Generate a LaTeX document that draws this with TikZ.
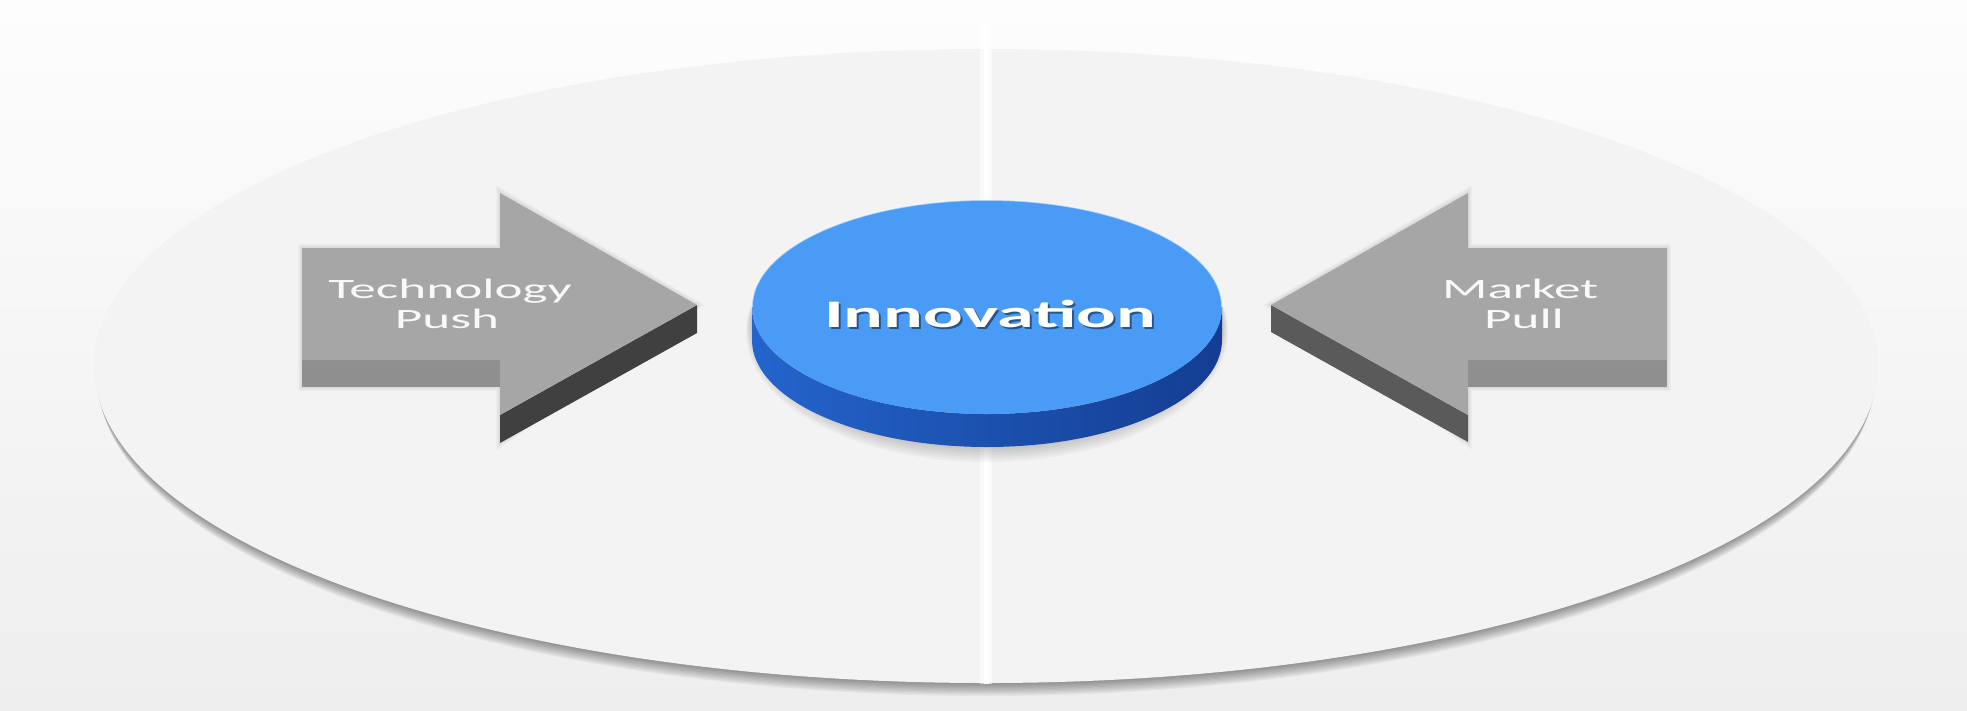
\documentclass[tikz,border=0pt]{standalone}
\usepackage{fontspec}
\setmainfont{Carlito}
\definecolor{bgtop}{HTML}{FDFDFD}
\definecolor{bgbot}{HTML}{EEEEEE}
\definecolor{plate}{HTML}{F3F3F3}
\definecolor{arrowtop}{HTML}{A6A6A6}
\definecolor{arrowshaft}{HTML}{8F8F8F}
\definecolor{headdarkL}{HTML}{404040}
\definecolor{headdarkR}{HTML}{5A5A5A}
\definecolor{disktop}{HTML}{4A9BF6}
\definecolor{sideL}{HTML}{2464CC}
\definecolor{sideM}{HTML}{3B82EE}
\definecolor{sideR}{HTML}{143D92}
\tikzset{
  lbl/.style={text=white!95!gray, anchor=base, inner sep=0pt, font=\fontsize{28}{30}\selectfont},
  bigl/.style={text=white, anchor=base, inner sep=0pt, font=\fontsize{39}{42}\selectfont\bfseries},
}
\begin{document}
\begin{tikzpicture}[x=1pt,y=-1pt]
% background
\shade[top color=bgtop, bottom color=bgbot] (0,0) rectangle (1967,710);
\useasboundingbox (0,0) rectangle (1967,710);
% plate shadow
\foreach \k in {1,...,10}
  \fill[black, opacity=0.045] (986,{366+\k*1.3}) ellipse [x radius={892-\k*0.4}, y radius=317];
% plate
\fill[plate] (986,366) ellipse [x radius=892, y radius=317];
% white divider
\draw[white, line width=12, opacity=0.5] (986,24) -- (986,684);
\draw[white, line width=5] (986,24) -- (986,684);
% arrow soft shadows
\foreach \k in {1,...,4}
  \fill[black, opacity=0.025] ({302-\k},{248-\k}) -- ({500-\k},{248-\k}) -- ({500-\k},{193-2*\k}) -- ({697+2*\k},305) -- ({500-\k},{443+2*\k}) -- ({500-\k},{387+\k}) -- ({302-\k},{387+\k}) -- cycle;
\foreach \k in {1,...,4}
  \fill[black, opacity=0.025] ({1667+\k},{248-\k}) -- ({1468+\k},{248-\k}) -- ({1468+\k},{193-2*\k}) -- ({1271-2*\k},305) -- ({1468+\k},{442+2*\k}) -- ({1468+\k},{387+\k}) -- ({1667+\k},{387+\k}) -- cycle;
% left arrow
\fill[arrowshaft] (302,360) -- (500,360) -- (500,387) -- (302,387) -- cycle;
\fill[headdarkL] (697,305) -- (697,333) -- (500,443) -- (500,415) -- cycle;
\fill[arrowtop] (302,248) -- (500,248) -- (500,193) -- (697,305) -- (500,415) -- (500,360) -- (302,360) -- cycle;
\node[lbl] (tech) at (450,298) {\scalebox{1.9}[1]{Technology}};
\node[lbl] (push) at (447,328) {\scalebox{1.9}[1]{Push}};
% right arrow
\fill[arrowshaft] (1468,360) -- (1667,360) -- (1667,387) -- (1468,387) -- cycle;
\fill[headdarkR] (1271,305) -- (1271,332) -- (1468,442) -- (1468,415) -- cycle;
\fill[arrowtop] (1667,248) -- (1468,248) -- (1468,193) -- (1271,305) -- (1468,415) -- (1468,360) -- (1667,360) -- cycle;
\node[lbl] (market) at (1520,298) {\scalebox{1.9}[1]{Market}};
\node[lbl] (pull) at (1524,328) {\scalebox{1.9}[1]{Pull}};
% disk shadow
\foreach \k in {1,...,6}
  \fill[black, opacity=0.03] (987,{323+\k*1.5}) ellipse [x radius={235+\k}, y radius={124+\k}];
% disk side
\shade[left color=sideL, middle color=sideM, right color=sideR]
  (752,307) -- (752,340) arc[start angle=180, end angle=0, x radius=235, y radius=107]
  -- (1222,307) arc[start angle=0, end angle=180, x radius=235, y radius=107] -- cycle;
% disk top
\fill[disktop] (987,307) ellipse [x radius=235, y radius=107];
\draw[white, opacity=0.55, line width=1.5] (752,307) arc[start angle=180, end angle=360, x radius=235, y radius=107];
\node[bigl, text=black, opacity=0.45] at (992,329.5) {\scalebox{1.9}[1]{Innovation}};
\node[bigl] (innov) at (990,327) {\scalebox{1.9}[1]{Innovation}};
\end{tikzpicture}
\end{document}
